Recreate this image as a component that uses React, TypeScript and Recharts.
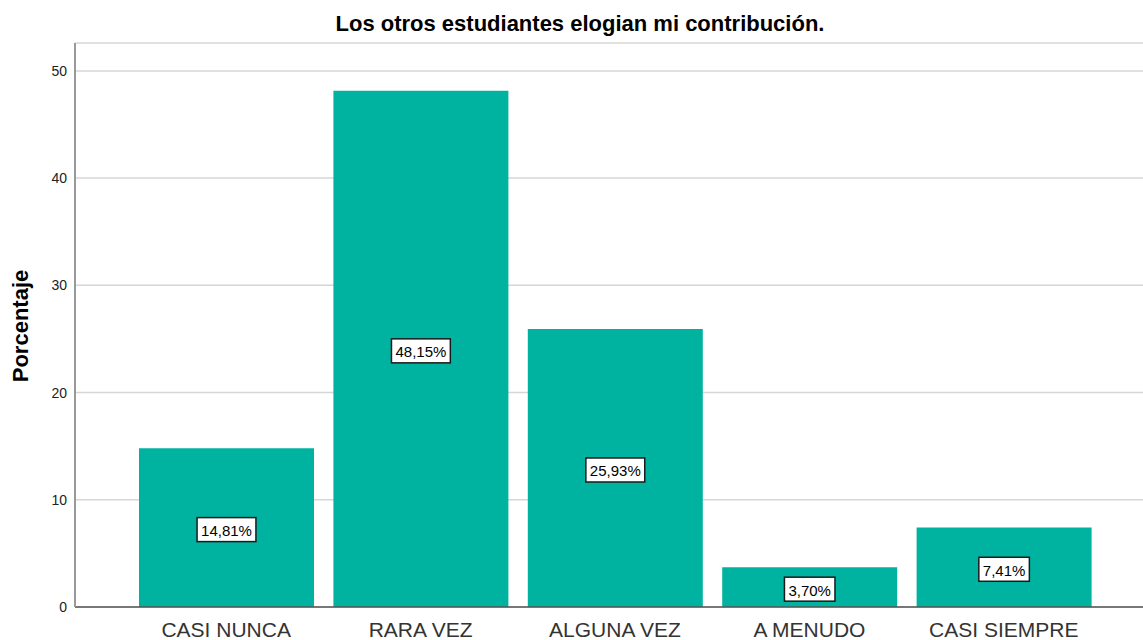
import React from 'react';
import { BarChart, Bar, XAxis, YAxis, CartesianGrid, LabelList, Label } from 'recharts';

const categories = ['CASI NUNCA', 'RARA VEZ', 'ALGUNA VEZ', 'A MENUDO', 'CASI SIEMPRE'];
const percentages = [14.81, 48.15, 25.93, 3.7, 7.41];
const yTicks = [0, 10, 20, 30, 40, 50];

const data = categories.map((name, i) => ({ name, value: percentages[i] }));

const FONT = '"Liberation Sans", Arial, sans-serif';

const fmt = (v: number) => v.toFixed(2).replace('.', ',') + '%';

function charWidth(c: string) {
  if (c === ',') return 0.278;
  if (c === '%') return 0.889;
  return 0.556;
}

function BoxLabel(props: any) {
  const { x, y, width, height, value } = props;
  const txt = fmt(value);
  const fs = 15;
  const w = txt.split('').reduce((s, c) => s + charWidth(c), 0) * fs + 8;
  const h = 24;
  const cx = x + width / 2;
  const cy = y + height / 2 + 2;
  return (
    <g>
      <rect x={cx - w / 2} y={cy - h / 2} width={w} height={h} fill="#fff" stroke="#1a1a1a" strokeWidth={1.5} />
      <text x={cx} y={cy + 1} textAnchor="middle" dominantBaseline="central" fontSize={fs} fontFamily={FONT} fill="#000">
        {txt}
      </text>
    </g>
  );
}

export default function App() {
  return (
    <div style={{ position: 'absolute', left: 0, top: 0, width: 1143, height: 640, background: '#fff', fontFamily: FONT }}>
      <div
        style={{
          position: 'absolute',
          left: 0,
          top: 11,
          width: 1160,
          textAlign: 'center',
          fontSize: 22,
          fontWeight: 'bold',
          color: '#000',
        }}
      >
        Los otros estudiantes elogian mi contribución.
      </div>
      <BarChart width={1143} height={640} data={data} margin={{ top: 43, right: 0, bottom: 0, left: 0 }}>
        <CartesianGrid vertical={false} stroke="#d6d6d6" strokeWidth={1.5} />
        <XAxis
          dataKey="name"
          padding={{ left: 54, right: 42 }}
          height={33}
          tickLine={false}
          tickSize={0}
          tickMargin={15}
          stroke="#555"
          strokeWidth={1.5}
          tick={{ fill: '#333', fontSize: 21, fontFamily: FONT }}
          interval={0}
        />
        <YAxis
          width={75}
          domain={[0, 52.6]}
          ticks={yTicks}
          allowDataOverflow
          tickLine={false}
          tickSize={0}
          tickMargin={8}
          stroke="#999"
          strokeWidth={2}
          tick={{ fill: '#222', fontSize: 14, fontFamily: FONT }}
        >
          <Label
            content={() => (
              <text
                x={20}
                y={326}
                transform="rotate(-90 20 326)"
                textAnchor="middle"
                dominantBaseline="central"
                fontSize={22}
                fontWeight="bold"
                fontFamily={FONT}
                fill="#000"
              >
                Porcentaje
              </text>
            )}
          />
        </YAxis>
        <Bar dataKey="value" fill="#00b3a1" barSize={175} isAnimationActive={false}>
          <LabelList dataKey="value" content={BoxLabel} />
        </Bar>
      </BarChart>
    </div>
  );
}
